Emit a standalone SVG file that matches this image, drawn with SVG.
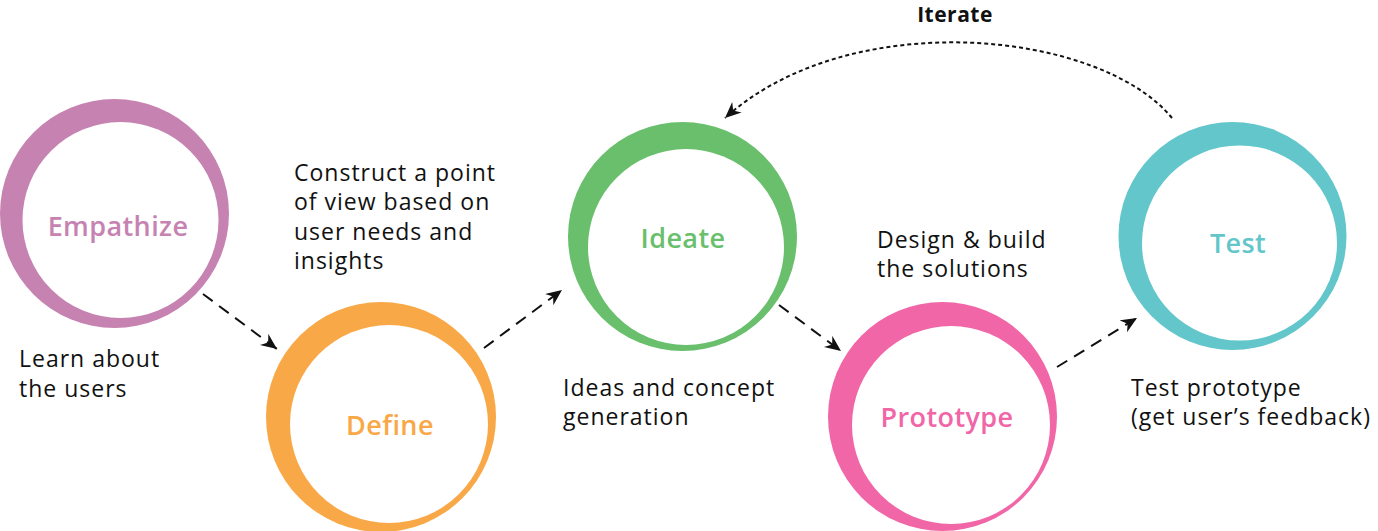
<svg xmlns="http://www.w3.org/2000/svg" width="1378" height="531" viewBox="0 0 1378 531">
<style>
.body{font-family:"Open Sans","Noto Sans","Liberation Sans",sans-serif;font-size:23px;letter-spacing:1px;fill:#111;}
.lbl{font-family:"Open Sans","Noto Sans","Liberation Sans",sans-serif;font-size:27px;font-weight:600;letter-spacing:0.4px;text-anchor:middle;}
.iter{font-family:"Open Sans","Noto Sans","Liberation Sans",sans-serif;font-size:21px;font-weight:700;letter-spacing:0.5px;fill:#111;text-anchor:middle;}
.dash{fill:none;stroke:#111;stroke-width:2;stroke-dasharray:12 8;}
.dot{fill:none;stroke:#111;stroke-width:2;stroke-dasharray:4 3;}
</style>
<defs>
<marker id="ah" markerUnits="userSpaceOnUse" markerWidth="18" markerHeight="16" refX="16" refY="7" orient="auto">
<path d="M0,0 L16,7 L0,14 L5,7 z" fill="#111"/>
</marker>
</defs>
<rect width="1378" height="531" fill="#fff"/>
<g id="empathize">
<circle cx="114.5" cy="213.5" r="114.5" fill="#C683B1"/>
<circle cx="120.5" cy="220" r="98" fill="#fff"/>
<text class="lbl" x="118" y="236" fill="#C683B1">Empathize</text>
</g>
<g id="define">
<circle cx="381" cy="417" r="115" fill="#F9A847"/>
<circle cx="389" cy="424" r="99" fill="#fff"/>
<text class="lbl" x="390" y="435" fill="#F9A847">Define</text>
</g>
<g id="ideate">
<circle cx="682.5" cy="236.5" r="114.5" fill="#69BF6C"/>
<circle cx="686" cy="247" r="98" fill="#fff"/>
<text class="lbl" x="683" y="248" fill="#69BF6C">Ideate</text>
</g>
<g id="prototype">
<circle cx="942.5" cy="416.5" r="114.5" fill="#F066A7"/>
<circle cx="951" cy="425" r="99" fill="#fff"/>
<text class="lbl" x="947" y="427" fill="#F066A7">Prototype</text>
</g>
<g id="test">
<circle cx="1232.5" cy="236" r="114" fill="#62C6CB"/>
<circle cx="1239.5" cy="243" r="97.5" fill="#fff"/>
<text class="lbl" x="1238" y="253" fill="#62C6CB">Test</text>
</g>
<g id="notes">
<text class="body" x="19" y="367">Learn about</text>
<text class="body" x="19" y="397">the users</text>
<text class="body" x="294" y="181">Construct a point</text>
<text class="body" x="294" y="210">of view based on</text>
<text class="body" x="294" y="240">user needs and</text>
<text class="body" x="294" y="269">insights</text>
<text class="body" x="563" y="396">Ideas and concept</text>
<text class="body" x="563" y="425">generation</text>
<text class="body" x="877" y="248">Design &amp; build</text>
<text class="body" x="877" y="277">the solutions</text>
<text class="body" x="1131" y="396">Test prototype</text>
<text class="body" x="1131" y="425">(get user’s feedback)</text>
<text class="iter" x="955" y="22">Iterate</text>
</g>
<g id="connectors">
<path class="dash" d="M203,294 L277,349" marker-end="url(#ah)"/>
<path class="dash" d="M484,348 L562,290" marker-end="url(#ah)"/>
<path class="dash" d="M779,305 L841,351" marker-end="url(#ah)"/>
<path class="dash" d="M1057,367 L1137,318" marker-end="url(#ah)"/>
<path class="dot" d="M1172,118 C1100,30 850,5 725,118" marker-end="url(#ah)"/>
</g>
</svg>
